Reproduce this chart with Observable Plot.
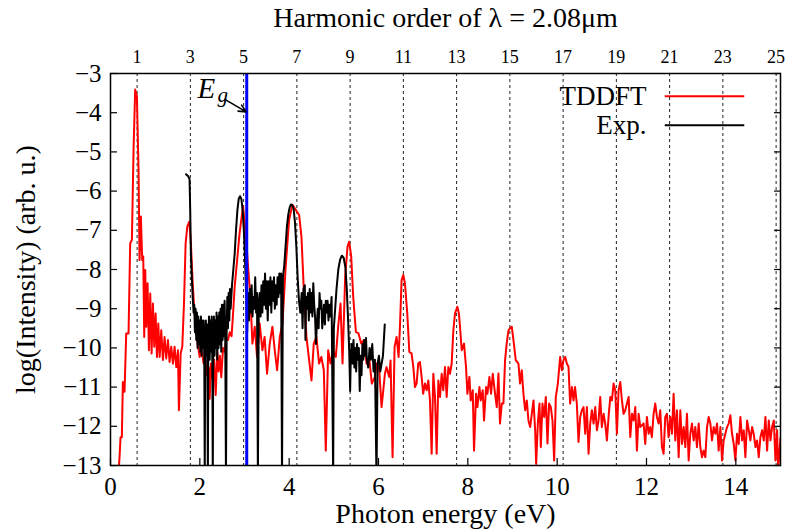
<!DOCTYPE html>
<html>
<head>
<meta charset="utf-8">
<script src="https://cdn.jsdelivr.net/npm/d3@7"></script>
<script src="https://cdn.jsdelivr.net/npm/@observablehq/plot@0.6"></script>
<style>
  html, body { margin: 0; padding: 0; background: #fff; }
  #chart { width: 786px; height: 531px; }
</style>
</head>
<body>
<div id="chart"></div>
<script>
// ---- data ----
const wavelengthUm = 2.08;
const E1 = 1.23984 / wavelengthUm;            // photon energy of fundamental (eV)
const harmonicOrders = [1, 3, 5, 7, 9, 11, 13, 15, 17, 19, 21, 23, 25];
const bandGap = 3.05;                          // E_g (eV)
const xTicks = [0, 2, 4, 6, 8, 10, 12, 14];
const yTicks = [-3, -4, -5, -6, -7, -8, -9, -10, -11, -12, -13];

// TDDFT spectrum (eV, log intensity)
const tddftE = [
0.19,0.202,0.225,0.254,0.277,0.314,0.352,0.404,0.441,0.479,0.516,0.553,0.591,0.628,0.65,0.68,0.71,0.733,0.755,0.778,
0.80,0.83,0.86,0.89,0.92,0.95,0.98,1.01,1.04,1.07,1.10,1.136,1.174,1.21,1.248,1.286,1.323,1.36,1.398,1.435,
1.473,1.51,1.532,1.57,1.607,1.645,1.682,1.72,1.764,1.80,1.84,1.876,1.914,1.95,1.996,2.04,2.086,2.12,2.16,2.20,
2.22,2.25,2.29,2.32,2.355,2.39,2.42,2.45,2.48,2.52,2.556,2.59,2.63,2.67,2.71,2.74,2.78,2.84,2.89,2.967,
3.027,3.08,3.132,3.177,3.23,3.28,3.34,3.40,3.45,3.505,3.565,3.625,3.677,3.73,3.79,3.85,3.924,3.999,4.074,4.148,
4.223,4.275,4.328,4.387,4.447,4.5,4.55,4.61,4.67,4.72,4.776,4.82,4.873,4.925,4.985,5.045,5.097,5.15,5.195,5.254,
5.306,5.344,5.389,5.434,5.494,5.553,5.613,5.673,5.733,5.79,5.85,5.92,5.96,6.017,6.069,6.144,6.18,6.24,6.27,6.315,
6.36,6.405,6.45,6.48,6.517,6.555,6.592,6.644,6.69,6.74,6.78,6.816,6.853,6.89,6.928,6.966,7.0,7.04,7.078,7.115,
7.152,7.19,7.227,7.265,7.302,7.34,7.377,7.414,7.45,7.489,7.526,7.564,7.6,7.638,7.676,7.713,7.765,7.8,7.825,7.863,
7.915,7.96,7.99,8.035,8.064,8.11,8.139,8.184,8.214,8.26,8.289,8.333,8.363,8.408,8.438,8.483,8.52,8.558,8.61,8.647,
8.685,8.72,8.76,8.797,8.834,8.87,8.91,8.946,8.984,9.021,9.073,9.133,9.17,9.208,9.245,9.283,9.32,9.357,9.395,9.432,
9.47,9.507,9.53,9.567,9.604,9.634,9.671,9.709,9.746,9.783,9.82,9.858,9.895,9.933,9.97,10.015,10.067,10.105,10.142,10.18,
10.217,10.254,10.29,10.33,10.366,10.4,10.44,10.478,10.516,10.553,10.59,10.628,10.665,10.703,10.74,10.777,10.815,10.852,10.89,10.927,
10.964,11.0,11.04,11.076,11.114,11.151,11.19,11.226,11.263,11.3,11.338,11.375,11.413,11.45,11.487,11.525,11.562,11.6,11.637,11.674,
11.712,11.749,11.786,11.824,11.86,11.935,11.972,12.01,12.047,12.084,12.12,12.159,12.196,12.234,12.271,12.308,12.346,12.383,12.42,12.458,
12.495,12.533,12.57,12.607,12.645,12.682,12.72,12.757,12.794,12.832,12.869,12.906,12.944,12.981,13.018,13.056,13.093,13.13,13.168,13.205,
13.243,13.28,13.317,13.355,13.392,13.43,13.467,13.504,13.542,13.579,13.616,13.654,13.691,13.728,13.766,13.803,13.84,13.878,13.915,13.953,
13.99,14.027,14.065,14.102,14.14,14.177,14.214,14.252,14.29,14.326,14.364,14.4,14.44,14.476,14.513,14.55,14.588,14.625,14.663,14.7,
14.737,14.775,14.812,14.85,14.887,14.924,14.947,15.0];
const tddftI = [
-13.0,-12.79,-12.28,-12.28,-10.87,-11.12,-9.63,-9.63,-7.33,-7.25,-4.94,-3.41,-3.58,-5.46,-7.76,-6.65,-7.76,-7.67,-9.72,-8.01,
-9.46,-8.35,-10.06,-8.61,-10.14,-8.87,-9.97,-9.12,-10.23,-9.38,-10.23,-9.55,-10.31,-9.72,-10.27,-9.8,-10.36,-9.97,-10.4,-9.97,
-10.49,-10.06,-11.59,-10.14,-9.97,-8.87,-7.33,-6.9,-6.78,-7.33,-8.35,-9.04,-9.46,-9.89,-10.23,-10.06,-10.4,-10.3,-10.7,-10.5,
-11.3,-10.4,-10.8,-10.3,-11.2,-10.1,-10.6,-10.2,-10.75,-10.0,-10.1,-9.8,-9.8,-9.6,-9.7,-9.2,-8.44,-7.7,-7.07,-6.39,
-7.07,-7.93,-8.7,-9.89,-9.46,-10.23,-9.38,-10.06,-9.72,-10.66,-9.89,-9.46,-10.06,-10.57,-9.72,-9.38,-7.89,-6.73,-6.35,-6.48,
-6.61,-7.16,-8.52,-9.72,-10.31,-10.83,-9.89,-9.72,-10.4,-10.23,-10.57,-12.62,-10.06,-10.4,-10.06,-10.23,-9.46,-8.87,-10.4,-8.18,
-7.42,-7.29,-7.67,-8.7,-9.59,-9.63,-9.89,-9.8,-10.4,-10.23,-10.91,-10.74,-10.4,-10.57,-11.51,-10.66,-10.49,-10.74,-10.32,-12.79,
-9.97,-9.72,-10.23,-9.46,-8.27,-8.14,-8.35,-9.12,-10.1,-10.14,-10.49,-11.0,-10.91,-10.4,-10.36,-10.74,-11.17,-10.91,-11.08,-10.83,
-11.34,-12.7,-10.66,-11.25,-12.7,-10.83,-11.25,-10.66,-11.08,-10.49,-11.25,-10.49,-10.66,-10.4,-9.55,-9.12,-8.95,-9.12,-9.46,-10.06,
-9.89,-10.49,-11.17,-10.74,-11.34,-11.08,-12.62,-11.17,-11.51,-11.0,-11.34,-11.08,-11.85,-11.0,-11.17,-10.74,-11.17,-10.66,-11.17,-11.51,
-10.65,-11.93,-11.42,-11.42,-10.31,-9.89,-9.55,-9.5,-9.46,-9.8,-10.31,-10.4,-10.91,-10.57,-11.17,-11.59,-11.34,-11.85,-12.02,-11.68,
-11.34,-12.1,-12.96,-11.93,-11.42,-12.53,-11.42,-11.76,-11.25,-12.44,-11.42,-11.51,-11.85,-12.87,-11.25,-10.91,-10.23,-10.57,-10.31,-10.23,
-10.4,-10.48,-11.42,-11.0,-11.34,-11.0,-11.42,-12.4,-11.76,-11.59,-11.51,-12.19,-11.51,-12.7,-11.93,-11.59,-11.93,-11.51,-12.1,-11.85,
-11.25,-12.02,-11.68,-11.93,-12.36,-11.76,-11.25,-11.34,-10.91,-11.08,-12.19,-11.08,-10.87,-11.34,-11.68,-11.59,-11.42,-11.25,-12.27,-11.68,
-11.85,-11.51,-12.62,-11.68,-12.02,-11.93,-12.45,-11.76,-12.19,-12.02,-12.28,-11.68,-11.42,-11.76,-11.93,-11.59,-12.53,-12.7,-11.76,-11.68,
-12.28,-11.76,-12.19,-11.17,-12.36,-11.59,-12.79,-11.59,-12.45,-12.02,-12.53,-11.68,-12.87,-12.19,-11.93,-12.36,-12.02,-12.53,-11.93,-12.53,
-12.79,-12.62,-12.79,-12.02,-11.76,-11.93,-12.36,-12.02,-12.19,-11.93,-12.62,-12.02,-12.87,-12.36,-12.19,-12.02,-11.93,-11.72,-12.19,-12.45,
-12.87,-12.19,-12.45,-11.76,-12.36,-12.1,-12.79,-11.85,-12.1,-12.36,-12.02,-12.19,-12.53,-12.36,-12.79,-12.28,-12.1,-12.36,-11.76,-12.62,
-11.85,-12.36,-12.02,-11.85,-12.87,-12.1,-13.1,-12.3];

// Experimental spectrum (eV, log intensity)
const expE = [
1.69,1.74,1.77,1.785,1.80,1.82,1.84,1.86,1.875,1.89,1.905,1.92,1.935,1.95,1.965,1.98,1.995,2.01,2.025,2.04,
2.055,2.07,2.085,2.10,2.11,2.12,2.135,2.15,2.165,2.18,2.19,2.205,2.22,2.235,2.25,2.265,2.28,2.29,2.30,2.315,
2.33,2.345,2.36,2.375,2.39,2.405,2.42,2.435,2.45,2.465,2.48,2.495,2.51,2.525,2.54,2.555,2.57,2.585,2.60,2.615,
2.63,2.645,2.66,2.675,2.69,2.72,2.75,2.78,2.81,2.84,2.87,2.90,2.93,2.96,2.99,3.02,3.04,3.06,3.08,3.10,
3.12,3.14,3.16,3.18,3.20,3.22,3.24,3.26,3.28,3.30,3.32,3.34,3.36,3.38,3.40,3.42,3.44,3.46,3.48,3.50,
3.52,3.54,3.56,3.58,3.60,3.62,3.64,3.66,3.68,3.70,3.72,3.74,3.76,3.78,3.80,3.82,3.84,3.86,3.89,3.92,
3.95,3.98,4.01,4.04,4.07,4.10,4.13,4.16,4.19,4.22,4.25,4.28,4.30,4.32,4.35,4.365,4.38,4.40,4.42,4.44,
4.46,4.48,4.50,4.52,4.54,4.56,4.58,4.60,4.62,4.64,4.66,4.68,4.70,4.72,4.74,4.76,4.78,4.80,4.82,4.84,
4.86,4.88,4.90,4.92,4.95,4.985,5.00,5.03,5.06,5.10,5.14,5.18,5.22,5.26,5.29,5.32,5.345,5.365,5.38,5.40,
5.42,5.44,5.46,5.48,5.50,5.52,5.54,5.56,5.58,5.60,5.62,5.64,5.66,5.68,5.70,5.72,5.74,5.77,5.80,5.83,
5.86,5.89,5.92,5.955,5.98,6.01,6.04,6.07,6.10,6.14];
const expI = [
-5.57,-5.62,-5.7,-6.5,-7.6,-8.2,-8.7,-9.1,-8.9,-9.6,-9.0,-9.8,-9.1,-10.0,-9.2,-9.9,-9.3,-10.1,-9.2,-10.2,
-9.3,-10.0,-9.3,-10.3,-13.3,-10.0,-9.3,-10.2,-9.4,-13.3,-9.8,-9.2,-10.3,-9.3,-10.1,-9.2,-10.4,-13.3,-10.0,-9.2,
-10.2,-9.3,-10.0,-9.1,-10.3,-9.2,-10.0,-9.1,-9.9,-9.0,-10.1,-8.9,-9.8,-8.9,-9.7,-8.8,-9.9,-13.3,-9.6,-8.7,
-9.5,-8.6,-9.3,-8.5,-9.0,-8.4,-8.0,-7.6,-7.0,-6.5,-6.2,-6.13,-6.2,-6.5,-7.1,-8.0,-8.8,-9.6,-8.6,-9.3,
-8.5,-9.1,-8.4,-9.2,-8.7,-9.0,-8.2,-9.1,-8.6,-13.3,-8.8,-8.6,-9.2,-8.4,-9.1,-8.3,-8.9,-8.1,-9.0,-8.3,
-9.3,-8.3,-8.9,-8.2,-9.1,-8.3,-8.8,-8.2,-9.0,-8.4,-8.9,-8.2,-8.7,-8.1,-8.6,-8.1,-13.3,-8.2,-7.9,-7.4,
-6.9,-6.6,-6.42,-6.34,-6.36,-6.45,-6.8,-7.4,-8.2,-8.8,-9.1,-8.6,-9.5,-8.5,-8.4,-9.8,-8.7,-9.0,-8.6,-9.3,
-8.5,-9.1,-8.6,-9.2,-8.35,-8.9,-9.2,-9.9,-9.4,-9.0,-9.5,-8.6,-9.0,-8.8,-9.5,-9.2,-8.9,-9.4,-8.8,-9.1,
-8.8,-9.3,-8.9,-9.2,-8.7,-13.3,-9.5,-9.0,-8.5,-8.0,-7.75,-7.65,-7.7,-7.95,-8.5,-9.3,-10.1,-11.1,-10.2,-9.9,
-10.4,-9.8,-10.5,-10.0,-10.6,-9.9,-10.3,-10.0,-11.1,-10.2,-10.7,-9.9,-10.3,-9.8,-10.2,-9.75,-10.3,-10.5,-10.0,-10.3,
-9.9,-10.6,-10.3,-13.3,-10.4,-10.2,-10.6,-10.4,-10.2,-9.4];

// annotation & legend
const egLabel = [{x: 1.95, y: -3.38}];
const egArrow = [{x1: 2.56, y1: -3.66, x2: 3.04, y2: -3.98}];
const legendItems = [
  {label: "TDDFT", color: "#ff0000", y: -3.58},
  {label: "Exp.",  color: "#000000", y: -4.32}
];
const legendX = {text: 12.0, x1: 12.42, x2: 14.2};

// ---- build ----
const tddft = tddftE.map((e, i) => ({e, v: tddftI[i]}));
const exp = expE.map((e, i) => ({e, v: expI[i]}));
const font = "'Liberation Serif', 'DejaVu Serif', serif";

const chart = Plot.plot({
  width: 786,
  height: 531,
  marginLeft: 110,
  marginRight: 6,
  marginTop: 73,
  marginBottom: 66,
  x: {domain: [0, 15]},
  y: {domain: [-13, -3]},
  style: {fontFamily: font, background: "#fff", color: "#000"},
  marks: [
    Plot.ruleX(harmonicOrders, {x: h => h * E1, stroke: "#222", strokeWidth: 1, strokeDasharray: "3,3"}),
    Plot.line(tddft, {x: "e", y: "v", stroke: "#ff0000", strokeWidth: 2, clip: true}),
    Plot.line(exp, {x: "e", y: "v", stroke: "#000", strokeWidth: 2, clip: true}),
    Plot.ruleX([bandGap], {stroke: "#0000ff", strokeWidth: 3}),
    Plot.arrow(egArrow, {x1: "x1", y1: "y1", x2: "x2", y2: "y2", stroke: "#000", strokeWidth: 1.6, headLength: 9, headAngle: 50}),
    Plot.text(egLabel, {x: "x", y: "y", text: () => "E", fontStyle: "italic", fontSize: 29, textAnchor: "start"}),
    Plot.text(egLabel, {x: "x", y: "y", text: () => "g", fontStyle: "italic", fontSize: 21, textAnchor: "start", dx: 20, dy: 7}),
    // legend
    Plot.text(legendItems, {x: () => legendX.text, y: "y", text: "label", textAnchor: "end", fontSize: 27}),
    Plot.ruleY([legendItems[0]], {y: "y", x1: () => legendX.x1, x2: () => legendX.x2, stroke: "#ff0000", strokeWidth: 2}),
    Plot.ruleY([legendItems[1]], {y: "y", x1: () => legendX.x1, x2: () => legendX.x2, stroke: "#000", strokeWidth: 2}),
    // axes: labels
    Plot.axisX(xTicks, {anchor: "bottom", tickSize: 0, tickPadding: 12, fontSize: 25, label: null}),
    Plot.axisY(yTicks, {anchor: "left", tickSize: 0, tickPadding: 9, fontSize: 25, label: null}),
    Plot.axisX(harmonicOrders.map(h => h * E1), {anchor: "top", tickSize: 0, tickPadding: 11, fontSize: 18,
      tickFormat: d => String(Math.round(d / E1)), label: null}),
    // axes: inward ticks
    Plot.axisX(xTicks, {anchor: "bottom", tickSize: 7, dy: -7, tickFormat: () => "", label: null, strokeWidth: 1.2}),
    Plot.axisY(yTicks, {anchor: "left", tickSize: 7, dx: 7, tickFormat: () => "", label: null, strokeWidth: 1.2}),
    Plot.axisY(yTicks, {anchor: "right", tickSize: 7, dx: -7, tickFormat: () => "", label: null, strokeWidth: 1.2}),
    // titles
    Plot.text(["Harmonic order of λ = 2.08μm"], {frameAnchor: "top", dy: -55, fontSize: 28, lineAnchor: "middle"}),
    Plot.text(["Photon energy (eV)"], {frameAnchor: "bottom", dy: 49, fontSize: 28, lineAnchor: "middle"}),
    Plot.text(["log(Intensity) (arb. u.)"], {frameAnchor: "left", dx: -84, rotate: -90, fontSize: 28,
      textAnchor: "middle", lineAnchor: "middle"}),
    Plot.frame({stroke: "#000", strokeWidth: 1.5})
  ]
});
document.getElementById("chart").appendChild(chart);
</script>
</body>
</html>
